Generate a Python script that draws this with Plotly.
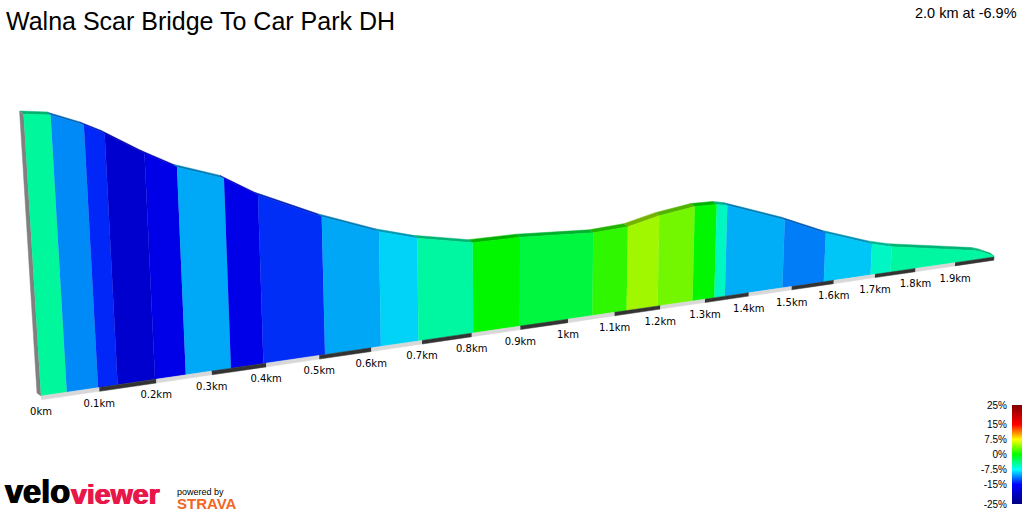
import numpy as np
import plotly.graph_objects as go
from plotly.colors import sample_colorscale, unlabel_rgb

# profile, distance along the segment and height above the lowest point
DIST_KM = [0, 0.044, 0.098, 0.132, 0.198, 0.253, 0.335, 0.395, 0.511, 0.619, 0.693, 0.803, 0.899,
           1.052, 1.126, 1.194, 1.272, 1.321, 1.345, 1.478, 1.576, 1.689, 1.738, 1.95, 1.968, 2.0]
ELEV_M = [140.5, 138.9, 132.6, 127.6, 115.9, 107.3, 99.2, 88.8, 73.8, 62.3, 56.2, 50.1, 49.8,
          47.1, 48.1, 52.1, 54.8, 54.4, 53.0, 40.3, 29.1, 18.9, 15.5, 5.8, 4.3, 0.6]
GRADE_PCT = [-4.7, -10.8, -13.8, -18.3, -16.2, -9.85, -16.2, -13.6, -9.9, -8.6, -4.9, 0, -1.9,
             1.4, 4.9, 3.5, 0, -5.9, -9.7, -11.2, -9, -6, -4.9, -4.9, -4.9]

TICK_KM = [0, 0.1, 0.2, 0.3, 0.4, 0.5, 0.6, 0.7, 0.8, 0.9, 1.0, 1.1, 1.2, 1.3, 1.4, 1.5, 1.6, 1.7, 1.8, 1.9]
TICK_LABELS = ["0km", "0.1km", "0.2km", "0.3km", "0.4km", "0.5km", "0.6km", "0.7km", "0.8km", "0.9km",
               "1km", "1.1km", "1.2km", "1.3km", "1.4km", "1.5km", "1.6km", "1.7km", "1.8km", "1.9km"]

LEGEND_TICKS = [25, 15, 7.5, 0, -7.5, -15, -25]
LEGEND_LABELS = ["25%", "15%", "7.5%", "0%", "-7.5%", "-15%", "-25%"]

# colours for the gradient, -25% to 25%
GRADE_SCALE = [[0, "rgb(0,0,127)"], [0.2, "rgb(0,0,255)"], [0.35, "rgb(0,255,255)"], [0.5, "rgb(0,255,0)"],
               [0.65, "rgb(255,255,0)"], [0.8, "rgb(255,0,0)"], [1, "rgb(127,0,0)"]]


def project(d, h):
    # perspective view of the ribbon's front face, gives page pixels
    d = np.asarray(d, dtype=float)
    h = np.asarray(h, dtype=float)
    w = 1 + 0.1185 * d - 0.000255 * h
    return (41 + 594.3 * d - 0.130 * h) / w, (396 - 39.05 * d - 2.036 * h) / w


def grade_colour(g, shade=1.0):
    rgb = unlabel_rgb(sample_colorscale(GRADE_SCALE, (g + 25) / 50)[0])
    return "rgb(%d,%d,%d)" % tuple(c * shade for c in rgb)


def polygon(xs, ys, colour):
    return go.Scatter(x=list(xs), y=list(ys), mode="lines", fill="toself", fillcolor=colour,
                      line=dict(color=colour, width=0.5), hoverinfo="skip", showlegend=False)


fig = go.Figure()

top_x, top_y = project(DIST_KM, ELEV_M)
base_x, base_y = project(DIST_KM, np.zeros(len(DIST_KM)))
back_dx, back_dy = -4, -3

# top surface of the ribbon
for i, g in enumerate(GRADE_PCT):
    fig.add_trace(polygon(
        [top_x[i], top_x[i + 1], top_x[i + 1] + back_dx, top_x[i] + back_dx],
        [top_y[i], top_y[i + 1], top_y[i + 1] + back_dy, top_y[i] + back_dy],
        grade_colour(g, 0.7)))

# grey start side
fig.add_trace(polygon(
    [top_x[0], base_x[0], base_x[0] + back_dx, top_x[0] + back_dx],
    [top_y[0], base_y[0], base_y[0] + back_dy, top_y[0] + back_dy],
    "rgb(128,128,128)"))

# front face, one polygon per gradient band
for i, g in enumerate(GRADE_PCT):
    fig.add_trace(polygon(
        [top_x[i], top_x[i + 1], base_x[i + 1], base_x[i]],
        [top_y[i], top_y[i + 1], base_y[i + 1], base_y[i]],
        grade_colour(g, 0.97)))

# distance stripe under the face
stripe_ends = TICK_KM + [2.0]
for i in range(len(TICK_KM)):
    xa, ya = project(stripe_ends[i:i + 2], [0, 0])
    xb, yb = project(stripe_ends[i:i + 2], [-2, -2])
    fig.add_trace(polygon([xa[0], xa[1], xb[1], xb[0]], [ya[0], ya[1], yb[1], yb[0]],
                          "rgb(216,216,216)" if i % 2 == 0 else "rgb(51,51,51)"))

label_x, label_y = project(TICK_KM, np.zeros(len(TICK_KM)))
fig.add_trace(go.Scatter(x=label_x, y=label_y + 16.5, mode="text", text=TICK_LABELS,
                         textposition="middle center",
                         textfont=dict(family="DejaVu Sans", size=10, color="#000000"),
                         hoverinfo="skip", showlegend=False))

# gradient legend
legend_levels = np.arange(-25, 25.5, 0.5)
fig.add_trace(go.Heatmap(z=[[v, v] for v in legend_levels], y=legend_levels, x=[0, 1], xaxis="x2", yaxis="y2",
                         colorscale=GRADE_SCALE, zmin=-25, zmax=25, showscale=False, hoverinfo="skip"))

fig.update_layout(
    width=1024, height=512,
    margin=dict(l=0, r=0, t=0, b=0, pad=0, autoexpand=False),
    paper_bgcolor="white", plot_bgcolor="rgba(0,0,0,0)",
    xaxis=dict(range=[0, 1024], domain=[0, 1], visible=False),
    yaxis=dict(range=[512, 0], domain=[0, 1], visible=False),
    xaxis2=dict(domain=[1012 / 1024, 1022 / 1024], anchor="y2", range=[-0.5, 1.5], visible=False),
    yaxis2=dict(domain=[8 / 512, 107 / 512], anchor="x2", range=[-25, 25], tickvals=LEGEND_TICKS,
                ticktext=LEGEND_LABELS, ticks="", showgrid=False, zeroline=False, showline=False,
                tickfont=dict(family="Liberation Sans", size=10, color="#000000"), ticklabelstandoff=4),
    annotations=[
        dict(text="Walna Scar Bridge To Car Park DH", x=4, y=21, xref="x", yref="y", xanchor="left",
             yanchor="middle", showarrow=False, font=dict(family="Liberation Sans", size=25, color="#000000")),
        dict(text="2.0 km at -6.9%", x=1019, y=13, xref="x", yref="y", xanchor="right", yanchor="middle",
             showarrow=False, font=dict(family="Liberation Sans", size=14.5, color="#000000")),
        dict(text="<b>velo</b>", x=3, y=512, xref="x", yref="y", xanchor="left", yanchor="bottom",
             showarrow=False, font=dict(family="Liberation Sans", size=32.5, color="#000000",
                                        shadow="0.7px 0 #000000, -0.7px 0 #000000")),
        dict(text="<b>viewer</b>", x=162, y=512, xref="x", yref="y", xanchor="right", yanchor="bottom",
             showarrow=False, font=dict(family="Liberation Sans", size=28.5, color="#e8174a",
                                        shadow="0.7px 0 #e8174a, -0.7px 0 #e8174a")),
        dict(text="powered by", x=175, y=492, xref="x", yref="y", xanchor="left", yanchor="middle",
             showarrow=False, font=dict(family="Liberation Sans", size=9, color="#000000")),
        dict(text="<b>STRAVA</b>", x=175, y=503.5, xref="x", yref="y", xanchor="left", yanchor="middle",
             showarrow=False, font=dict(family="Liberation Sans", size=15, color="#f26522")),
    ],
)

fig.write_html("out.html", config={"displayModeBar": False}, post_script="document.body.style.margin='0';")
